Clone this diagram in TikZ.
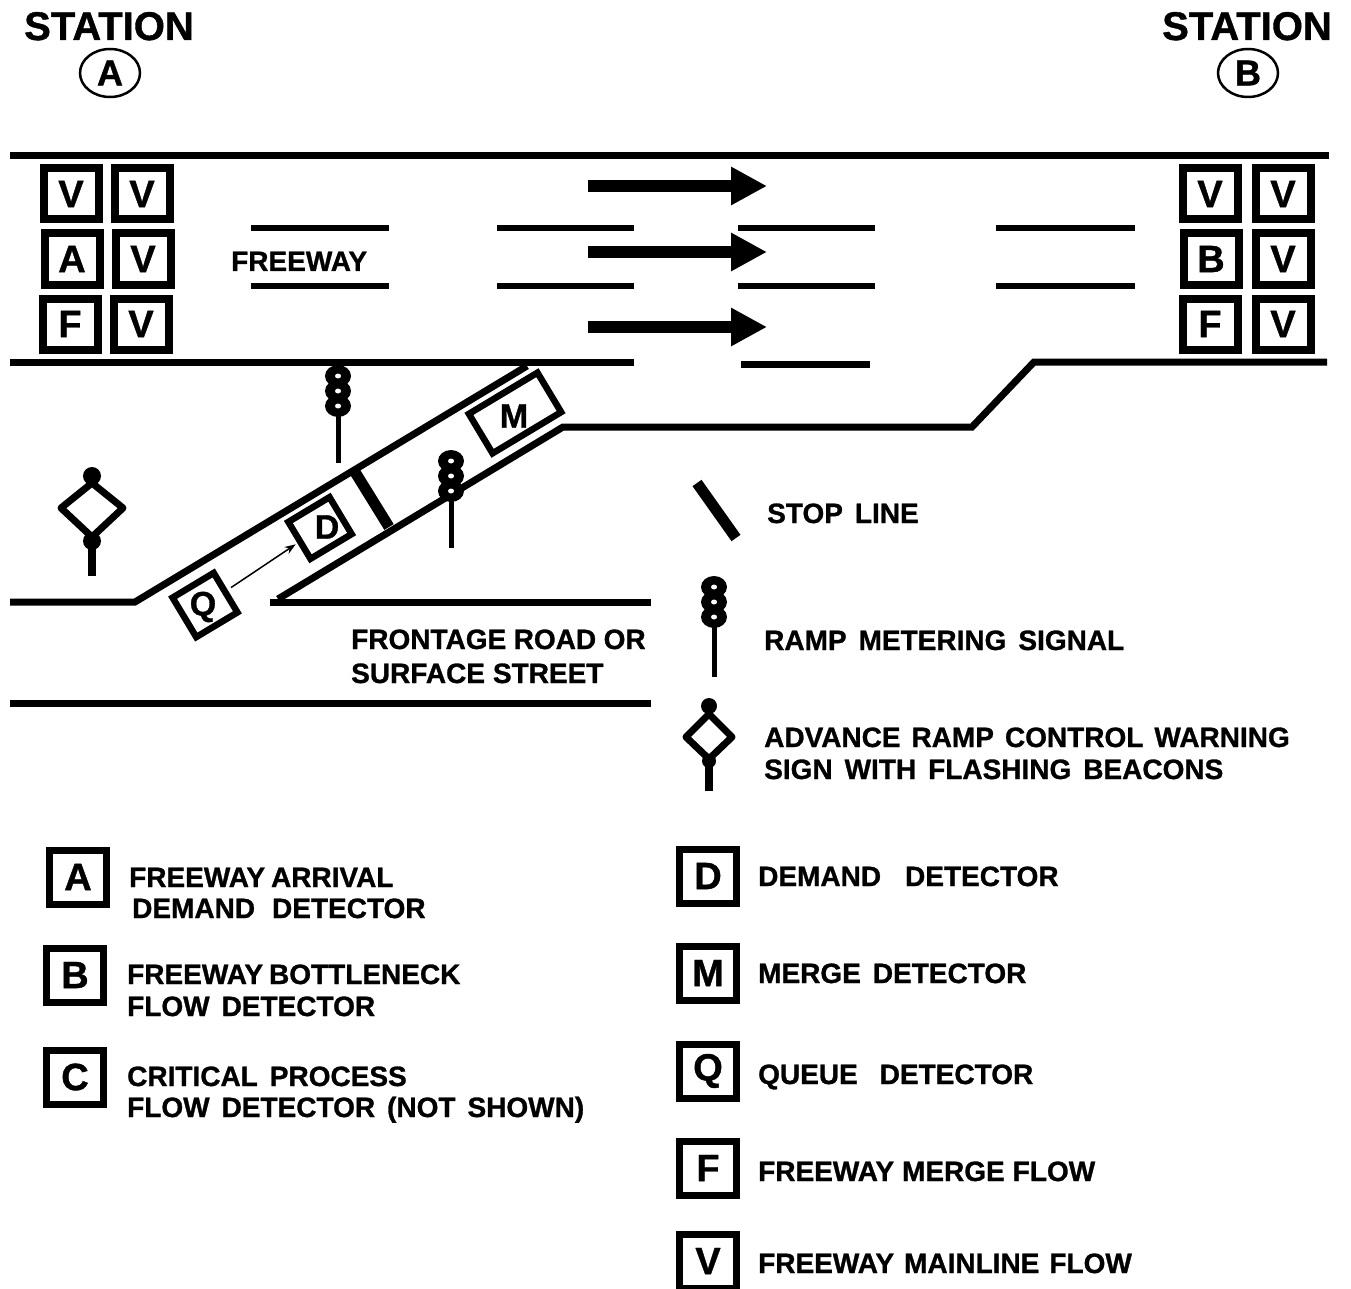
\documentclass[tikz,border=0pt]{standalone}
\usepackage{fontspec}
\setmainfont{Liberation Sans}[BoldFeatures={FakeBold=1}]
\usetikzlibrary{arrows.meta,shapes.geometric}
\newcommand{\fsz}[1]{\fontsize{#1}{#1}\bfseries\selectfont}
\newcommand{\labfont}{\fsz{28}\spaceskip=12pt\relax}
\newcommand{\gap}[1]{\spaceskip=#1pt\relax}
\tikzset{
  road/.style={line width=7pt,line cap=butt,line join=miter,black},
  lane/.style={line width=6.5pt,black},
  flow/.style={line width=12pt,-{Triangle[length=36pt,width=36pt]},black},
  lab/.style={anchor=base west,inner sep=0pt,font=\labfont,black},
  letter/.style={inner sep=0pt,font=\fsz{38},black},
  det/.style={draw=black,line width=8pt,minimum width=55pt,minimum height=51pt,inner sep=0pt,font=\fsz{38}},
  ldet/.style={det,line width=7pt,minimum width=57pt,minimum height=54pt},
  tilt/.style={draw=black,line width=6.5pt,rotate=31,inner sep=0pt},
  stopbar/.style={line width=11pt,black},
  signal/.pic={
    \foreach \k in {0,15,30}{\fill[black] (0,\k) ellipse[x radius=13,y radius=11];}
    \draw[line width=5pt] (0,38) -- (0,#1);
    \foreach \k in {0,15,30}{\fill[white] (0,\k) ellipse[x radius=3,y radius=2.5];}
  }
}
\begin{document}
\begin{tikzpicture}[x=1pt,y=-1pt]
\useasboundingbox[fill=white] (0,0) rectangle (1351,1289);
% stations
\node[inner sep=0pt,font=\fsz{40},anchor=base] (sa) at (109,40) {STATION};
\node[draw,ellipse,line width=2.5pt,minimum width=60pt,minimum height=48pt,inner sep=0pt,font=\fsz{36}] (ca) at (110,73) {A};
\node[inner sep=0pt,font=\fsz{40},anchor=base] (sb) at (1247,40) {STATION};
\node[draw,ellipse,line width=2.5pt,minimum width=60pt,minimum height=48pt,inner sep=0pt,font=\fsz{36}] (cb) at (1248,73) {B};
% freeway
\draw[road] (10,156) -- (1329,156);
\draw[road] (10,362) -- (634,362);
\draw[road] (741,364) -- (870,364);
\draw[road] (1327,362) -- (1034,362) -- (972,427) -- (563,427) -- (278,599);
\draw[road] (270,602) -- (651,602);
\draw[road] (10,602) -- (135,602) -- (527,366);
\draw[road] (10,703) -- (651,703);
\foreach \y in {228,286}{
  \foreach \a/\b in {251/389,497/634,738/875,996/1135}{
    \draw[lane] (\a,\y) -- (\b,\y);
  }
}
\draw[flow] (588,186) -- (767,186);
\draw[flow] (588,252) -- (767,252);
\draw[flow] (588,327) -- (767,327);
% station detector boxes
\node[det] (a1) at (71,194) {V};
\node[det] (a2) at (142,194) {V};
\node[det] (a3) at (72,259) {A};
\node[det] (a4) at (143,259) {V};
\node[det] (a5) at (70,324) {F};
\node[det] (a6) at (141,324) {V};
\node[det] (b1) at (1210,194) {V};
\node[det] (b2) at (1283,194) {V};
\node[det] (b3) at (1211,259) {B};
\node[det] (b4) at (1283,259) {V};
\node[det] (b5) at (1210,324) {F};
\node[det] (b6) at (1283,324) {V};
\node[lab] (fw) at (231,271) {FREEWAY};
% ramp detectors
\node[tilt,minimum width=80pt,minimum height=46pt] (mbox) at (515,413) {};
\node[letter,font=\fsz{34}] (mt) at (514,416) {M};
\node[tilt,minimum width=48pt,minimum height=43pt] (dbox) at (320,528) {};
\node[letter,font=\fsz{34}] (dt) at (327,527) {D};
\node[tilt,minimum width=48pt,minimum height=46pt] (qbox) at (205,605) {};
\node[letter,font=\fsz{34}] (qt) at (203,607) {Q};
\draw[line width=1.5pt,-{Stealth[length=11pt,width=8pt]},shorten <=4pt,shorten >=2pt] (qbox) -- (dbox);
\coordinate (s1) at (355,472);
\coordinate (s2) at (389,527);
\draw[stopbar] (s1) -- (s2);
% signals
\pic at (338,376) {signal=87};
\pic at (451,461) {signal=87};
\pic at (714,587) {signal=90};
% warning signs
\draw[line width=7pt,line join=round] (92,483) -- (123,508) -- (92,537) -- (61,508) -- cycle;
\fill (92,476) circle[radius=9];
\fill (92,541) circle[radius=9];
\draw[line width=8pt] (92,541) -- (92,576);
\draw[line width=7pt,line join=round] (709,714) -- (732,737) -- (709,759) -- (686,737) -- cycle;
\fill (709,706) circle[radius=8];
\fill (709,761) circle[radius=7];
\draw[line width=8pt] (709,761) -- (709,791);
\draw[line width=11pt] (697,483) -- (736,538);
% labels
\node[lab] (t1) at (351,649) {\gap{7.5}FRONTAGE ROAD OR};
\node[lab] (t2) at (351,683) {\gap{8}SURFACE STREET};
\node[lab] (t3) at (767,523) {STOP LINE};
\node[lab] (t4) at (764,650) {RAMP METERING SIGNAL};
\node[lab] (t5) at (764,747) {\gap{11}ADVANCE RAMP CONTROL WARNING};
\node[lab] (t6) at (764,779) {SIGN WITH FLASHING BEACONS};
% legend
\node[ldet] (la) at (78,877) {A};
\node[lab] (la1) at (129,887) {\gap{6}FREEWAY ARRIVAL};
\node[lab] (la2) at (132,918) {\gap{17}DEMAND DETECTOR};
\node[ldet] (lb) at (75,975) {B};
\node[lab] (lb1) at (127,984) {\gap{6}FREEWAY BOTTLENECK};
\node[lab] (lb2) at (127,1016) {FLOW DETECTOR};
\node[ldet] (lc) at (75,1077) {C};
\node[lab] (lc1) at (127,1086) {CRITICAL PROCESS};
\node[lab] (lc2) at (127,1117) {FLOW DETECTOR (NOT SHOWN)};
\node[ldet] (ld) at (708,876) {D};
\node[lab] (ld1) at (758,886) {DEMAND\hspace{24pt}DETECTOR};
\node[ldet] (lm) at (708,973) {M};
\node[lab] (lm1) at (758,983) {MERGE DETECTOR};
\node[ldet] (lq) at (708,1071) {Q};
\node[lab] (lq1) at (758,1084) {QUEUE\hspace{22pt}DETECTOR};
\node[ldet] (lf) at (708,1168) {F};
\node[lab] (lf1) at (758,1181) {\gap{8}FREEWAY MERGE FLOW};
\node[ldet] (lv) at (708,1261) {V};
\node[lab] (lv1) at (758,1273) {\gap{10}FREEWAY MAINLINE FLOW};
\end{tikzpicture}
\end{document}
